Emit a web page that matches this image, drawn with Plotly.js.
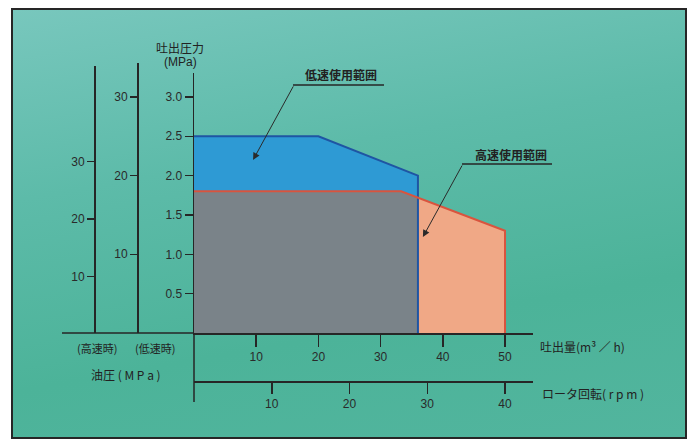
<!DOCTYPE html>
<html>
<head>
<meta charset="utf-8">
<script src="https://cdn.plot.ly/plotly-3.0.1.min.js"></script>
<style>
  html, body { margin: 0; padding: 0; background: #ffffff; }
  #frame {
    position: absolute; left: 11px; top: 8px; width: 672px; height: 427px;
    border: 2px solid #262626;
    background: linear-gradient(170deg, #78c7bd 0%, #5dbba9 35%, #4cb399 70%, #52b59e 100%);
  }
  #chart { position: absolute; left: 0; top: 0; width: 691px; height: 441px; }
</style>
</head>
<body>
<div id="frame"></div>
<div id="chart"></div>
<script>
// ---------- data ----------
const flowTicks = [10, 20, 30, 40, 50];            // 吐出量 (m³/h)
const rpmTicks = [10, 20, 30, 40];                 // ロータ回転 (rpm)
const dischargeTicks = [0.5, 1.0, 1.5, 2.0, 2.5, 3.0]; // 吐出圧力 (MPa)
const dischargeTickText = ['0.5', '1.0', '1.5', '2.0', '2.5', '3.0'];
const oilHighTicks = [10, 20, 30];                 // 油圧 高速時 (MPa)
const oilLowTicks = [10, 20, 30];                  // 油圧 低速時 (MPa)

const lowSpeedFlow = [0, 20, 36, 36];              // 低速使用範囲
const lowSpeedPressure = [2.5, 2.5, 2.0, 0];
const highSpeedFlow = [0, 33.3, 50, 50];           // 高速使用範囲
const highSpeedPressure = [1.8, 1.8, 1.3, 0];

// ---------- overlap of the two ranges (computed from data) ----------
function upperAt(xs, ys, x) {
  const n = xs.length - 1; // exclude final drop to zero
  for (let i = 0; i < n - 1; i++) {
    if (x >= xs[i] && x <= xs[i + 1]) {
      const t = (xs[i + 1] === xs[i]) ? 0 : (x - xs[i]) / (xs[i + 1] - xs[i]);
      return ys[i] + t * (ys[i + 1] - ys[i]);
    }
  }
  return ys[n - 1];
}
const xEnd = Math.min(Math.max(...lowSpeedFlow), Math.max(...highSpeedFlow));
const bp = Array.from(new Set(lowSpeedFlow.concat(highSpeedFlow).filter(v => v < xEnd))).sort((a, b) => a - b);
bp.push(xEnd);
const overlapFlow = bp.slice();
const overlapPressure = bp.map(x => Math.min(upperAt(lowSpeedFlow, lowSpeedPressure, x), upperAt(highSpeedFlow, highSpeedPressure, x)));
overlapFlow.push(xEnd); overlapPressure.push(0);

// ---------- layout geometry ----------
const W = 691, H = 441;
const L = 60, R = 540, T = 60, B = 410;
const fx = p => (p - L) / (R - L);
const fy = p => (B - p) / (B - T);

const ink = '#262626';
const numFont = { family: 'Liberation Sans, Arial, sans-serif', size: 12, color: '#2a2a2a' };
const jpFont = { family: 'Noto Sans CJK JP, sans-serif', size: 12, color: '#222' };

const traces = [
  { x: lowSpeedFlow, y: lowSpeedPressure, type: 'scatter', mode: 'none', fill: 'tozeroy', fillcolor: '#2e9ad4', hoverinfo: 'skip' },
  { x: highSpeedFlow, y: highSpeedPressure, type: 'scatter', mode: 'none', fill: 'tozeroy', fillcolor: '#f0a886', hoverinfo: 'skip' },
  { x: overlapFlow, y: overlapPressure, type: 'scatter', mode: 'none', fill: 'tozeroy', fillcolor: '#7a8389', hoverinfo: 'skip' },
  { x: lowSpeedFlow, y: lowSpeedPressure, type: 'scatter', mode: 'lines', line: { color: '#1f55a3', width: 2 }, hoverinfo: 'skip' },
  { x: highSpeedFlow, y: highSpeedPressure, type: 'scatter', mode: 'lines', line: { color: '#d9543e', width: 2 }, hoverinfo: 'skip' },
  // axis carriers
  { x: [null], y: [null], xaxis: 'x2', yaxis: 'y', type: 'scatter', mode: 'markers', hoverinfo: 'skip' },
  { x: [null], y: [null], xaxis: 'x', yaxis: 'y2', type: 'scatter', mode: 'markers', hoverinfo: 'skip' },
  { x: [null], y: [null], xaxis: 'x', yaxis: 'y3', type: 'scatter', mode: 'markers', hoverinfo: 'skip' }
];

const axisCommon = {
  showline: true, linecolor: ink, linewidth: 1.5, showgrid: false, zeroline: false,
  ticks: 'outside', tickcolor: ink, tickwidth: 1.5, tickfont: numFont, fixedrange: true
};

const layout = {
  width: W, height: H,
  margin: { l: L, r: W - R, t: T, b: H - B, pad: 0 },
  paper_bgcolor: 'rgba(0,0,0,0)',
  plot_bgcolor: 'rgba(0,0,0,0)',
  showlegend: false,
  xaxis: Object.assign({}, axisCommon, {
    domain: [fx(194), fx(533)], range: [0, 54.5], anchor: 'y',
    tickvals: flowTicks, ticklen: 12
  }),
  xaxis2: Object.assign({}, axisCommon, {
    domain: [fx(194), fx(533)], range: [0, 43.6], anchor: 'free', overlaying: 'x',
    position: fy(381), side: 'bottom', tickvals: rpmTicks, ticklen: 11
  }),
  yaxis: Object.assign({}, axisCommon, {
    domain: [fy(333), fy(73)], range: [0, 3.304], anchor: 'x',
    tickvals: dischargeTicks, ticktext: dischargeTickText, ticklen: 8
  }),
  yaxis2: Object.assign({}, axisCommon, {
    domain: [fy(333), fy(66)], range: [0.2, 46.6], anchor: 'free',
    position: fx(94), side: 'left', tickvals: oilHighTicks, ticklen: 7
  }),
  yaxis3: Object.assign({}, axisCommon, {
    domain: [fy(333), fy(63)], range: [0, 34.3], anchor: 'free',
    position: fx(137), side: 'left', tickvals: oilLowTicks, ticklen: 7
  }),
  shapes: [
    { type: 'line', xref: 'paper', yref: 'paper', x0: fx(62), x1: fx(194), y0: fy(333), y1: fy(333), line: { color: ink, width: 1.5 } },
    { type: 'line', xref: 'paper', yref: 'paper', x0: fx(194), x1: fx(194), y0: fy(333), y1: fy(402), line: { color: ink, width: 1.5 } },
    { type: 'line', xref: 'paper', yref: 'paper', x0: fx(293), x1: fx(384), y0: fy(85), y1: fy(85), line: { color: ink, width: 1.5 } },
    { type: 'line', xref: 'paper', yref: 'paper', x0: fx(462), x1: fx(552), y0: fy(164), y1: fy(164), line: { color: ink, width: 1.5 } }
  ],
  annotations: [
    { xref: 'paper', yref: 'paper', x: fx(180), y: fy(47), text: '吐出圧力', showarrow: false, font: jpFont, xanchor: 'center', yanchor: 'middle' },
    { xref: 'paper', yref: 'paper', x: fx(180), y: fy(62), text: '(MPa)', showarrow: false, font: Object.assign({}, jpFont, { family: 'Liberation Sans, sans-serif' }), xanchor: 'center', yanchor: 'middle' },
    { xref: 'paper', yref: 'paper', x: fx(97), y: fy(348), text: '(高速時)', showarrow: false, font: Object.assign({}, jpFont, { size: 11 }), xanchor: 'center', yanchor: 'middle' },
    { xref: 'paper', yref: 'paper', x: fx(155), y: fy(348), text: '(低速時)', showarrow: false, font: Object.assign({}, jpFont, { size: 11 }), xanchor: 'center', yanchor: 'middle' },
    { xref: 'paper', yref: 'paper', x: fx(126), y: fy(374), text: '油圧 ( M P a )', showarrow: false, font: jpFont, xanchor: 'center', yanchor: 'middle' },
    { xref: 'paper', yref: 'paper', x: fx(538), y: fy(346), text: '吐出量(m³ ／ h)', showarrow: false, font: jpFont, xanchor: 'left', yanchor: 'middle' },
    { xref: 'paper', yref: 'paper', x: fx(540), y: fy(393), text: 'ロータ回転( r p m )', showarrow: false, font: jpFont, xanchor: 'left', yanchor: 'middle' },
    { xref: 'paper', yref: 'paper', x: fx(341), y: fy(75), text: '<b>低速使用範囲</b>', showarrow: false, font: Object.assign({}, jpFont, { size: 12 }), xanchor: 'center', yanchor: 'middle' },
    { xref: 'paper', yref: 'paper', x: fx(511), y: fy(154), text: '<b>高速使用範囲</b>', showarrow: false, font: Object.assign({}, jpFont, { size: 12 }), xanchor: 'center', yanchor: 'middle' },
    { xref: 'x', yref: 'y', x: 9.5, y: 2.2, ax: 41, ay: -75, text: '', showarrow: true, arrowhead: 2, arrowsize: 1.4, arrowwidth: 1, arrowcolor: '#2a2a2a', standoff: 0, startstandoff: 0 },
    { xref: 'x', yref: 'y', x: 36.8, y: 1.22, ax: 40, ay: -73, text: '', showarrow: true, arrowhead: 2, arrowsize: 1.4, arrowwidth: 1, arrowcolor: '#2a2a2a', standoff: 0, startstandoff: 0 }
  ]
};

Plotly.newPlot('chart', traces, layout, { staticPlot: true, displayModeBar: false });
</script>
</body>
</html>
